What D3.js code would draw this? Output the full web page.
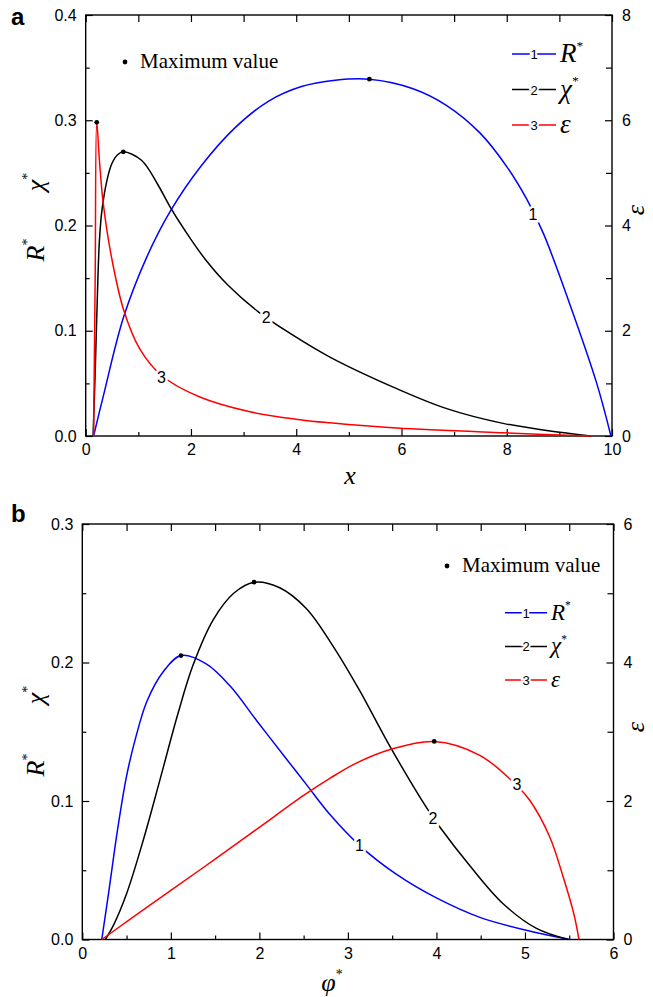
<!DOCTYPE html>
<html>
<head>
<meta charset="utf-8">
<script src="https://cdn.jsdelivr.net/npm/d3@7"></script>
<style>
  body { margin: 0; background: #fff; }
  svg text { font-family: "Liberation Sans", Arial, sans-serif; fill: #000; }
  svg .serif { font-family: "Liberation Serif", "Times New Roman", serif; }
</style>
</head>
<body>
<div id="app"></div>
<script>
// ---- panel a: x vs R*, chi* (left axis) and epsilon (right axis) ----
const aR = [[0.15,0],[0.33,0.037],[0.72,0.113],[1.16,0.170],[1.6,0.213],[2.2,0.257],[2.84,0.293],
  [3.47,0.318],[4.1,0.332],[4.74,0.338],[5.39,0.339],[6.22,0.330],[6.86,0.314],[7.49,0.288],
  [8.0,0.256],[8.38,0.225],[8.7,0.192],[9.2,0.125],[9.71,0.05],[9.98,0]];
const aChi = [[0.14,0],[0.18,0.06],[0.22,0.13],[0.26,0.185],[0.31,0.215],[0.4,0.242],[0.49,0.258],
  [0.6,0.267],[0.715,0.270],[1.06,0.262],[1.38,0.238],[1.6,0.218],[1.89,0.195],[2.27,0.168],
  [2.71,0.143],[3.28,0.118],[3.9,0.097],[4.64,0.075],[5.91,0.045],[6.86,0.026],[7.93,0.012],
  [9.01,0.0035],[9.6,0]];
const aEps = [[0.15,0],[0.18,3.0],[0.21,5.96],[0.26,5.25],[0.33,4.45],[0.49,3.4],[0.72,2.4],
  [1.03,1.65],[1.44,1.15],[2.17,0.74],[3.12,0.46],[4.07,0.31],[4.64,0.25],[5.91,0.15],
  [7.93,0.06],[9.6,0]];
const aMaxLeft = [[5.39,0.339],[0.715,0.270]];
const aMaxRight = [[0.21,5.96]];
const aCurveLabels = [["1",8.5,0.211,"left"],["2",3.43,0.113,"left"],["3",1.44,1.13,"right"]];

// ---- panel b: phi* vs R*, chi* (left axis) and epsilon (right axis) ----
const bR = [[0.22,0],[0.3,0.035],[0.4,0.08],[0.5,0.118],[0.6,0.145],[0.73,0.172],[0.91,0.193],
  [1.115,0.205],[1.4,0.199],[1.67,0.183],[1.97,0.158],[2.31,0.130],[2.53,0.112],[2.8,0.090],
  [3.13,0.068],[3.55,0.047],[4.0,0.030],[4.49,0.016],[5.06,0.006],[5.51,0]];
const bChi = [[0.26,0],[0.35,0.01],[0.5,0.033],[0.69,0.072],[0.88,0.116],[1.08,0.163],[1.25,0.198],
  [1.48,0.231],[1.71,0.250],[1.94,0.258],[2.23,0.254],[2.53,0.239],[2.83,0.212],[3.13,0.180],
  [3.47,0.140],[3.89,0.095],[4.04,0.081],[4.38,0.053],[4.75,0.026],[5.13,0.008],[5.49,0]];
const bEps = [[0.22,0],[1.0,0.71],[1.5,1.16],[2.0,1.62],[2.5,2.08],[2.8,2.33],[3.1,2.55],[3.47,2.74],
  [3.975,2.86],[4.49,2.66],[4.91,2.22],[5.06,2.0],[5.28,1.48],[5.43,0.91],[5.55,0.38],[5.61,0]];
const bMaxLeft = [[1.115,0.205],[1.94,0.258]];
const bMaxRight = [[3.975,2.86]];
const bCurveLabels = [["1",3.13,0.068,"left"],["2",3.96,0.088,"left"],["3",4.91,2.25,"right"]];

// ticks
const aXMajor = [0,2,4,6,8,10], aXMinor = [1,3,5,7,9];
const aYMajor = [0,0.1,0.2,0.3,0.4], aYMinor = [0.05,0.15,0.25,0.35];
const aY2Major = [0,2,4,6,8], aY2Minor = [1,3,5,7];
const bXMajor = [0,1,2,3,4,5,6], bXMinor = [0.5,1.5,2.5,3.5,4.5,5.5];
const bYMajor = [0,0.1,0.2,0.3], bYMinor = [0.05,0.15,0.25];
const bY2Major = [0,2,4,6], bY2Minor = [1,3,5];

const colors = ["#0000ff", "#000000", "#ff0000"];

const svg = d3.select("#app").append("svg")
  .attr("width", 653).attr("height", 997);
svg.append("rect").attr("width", 653).attr("height", 997).attr("fill", "#fff");

function drawPanel(p) {
  const x = d3.scaleLinear().domain(p.xDomain).range([p.left, p.right]);
  const y = d3.scaleLinear().domain(p.yDomain).range([p.bottom, p.top]);
  const y2 = d3.scaleLinear().domain(p.y2Domain).range([p.bottom, p.top]);
  const g = svg.append("g");

  // axes: ticks point inward
  const addAxis = (axis, tr) => {
    const a = g.append("g").attr("transform", tr).call(axis);
    a.select(".domain").remove();
    a.selectAll("line").attr("stroke", "#000").attr("stroke-width", 1.2);
    a.selectAll("text").attr("font-size", 16).attr("fill", "#000");
    return a;
  };
  addAxis(d3.axisBottom(x).tickValues(p.xMajor).tickSize(-7).tickPadding(8).tickFormat(d3.format("d")),
    `translate(0,${p.bottom})`);
  addAxis(d3.axisBottom(x).tickValues(p.xMinor).tickSize(-4).tickFormat(""), `translate(0,${p.bottom})`);
  addAxis(d3.axisTop(x).tickValues(p.xMajor.concat(p.xMinor)).tickSize(-7).tickFormat(""),
    `translate(0,${p.top})`);
  addAxis(d3.axisLeft(y).tickValues(p.yMajor).tickSize(-7).tickPadding(9).tickFormat(d3.format(".1f")),
    `translate(${p.left},0)`);
  addAxis(d3.axisLeft(y).tickValues(p.yMinor).tickSize(-4).tickFormat(""), `translate(${p.left},0)`);
  addAxis(d3.axisRight(y2).tickValues(p.y2Major).tickSize(-7).tickPadding(10).tickFormat(d3.format("d")),
    `translate(${p.right},0)`);
  addAxis(d3.axisRight(y2).tickValues(p.y2Minor).tickSize(-6).tickFormat(""), `translate(${p.right},0)`);

  g.append("rect")
    .attr("x", p.left).attr("y", p.top)
    .attr("width", p.right - p.left).attr("height", p.bottom - p.top)
    .attr("fill", "none").attr("stroke", "#000").attr("stroke-width", 1.4);

  // curves
  const curve = d3.curveCatmullRom.alpha(0.5);
  const lineL = d3.line().x(d => x(d[0])).y(d => y(d[1])).curve(curve);
  const lineR = d3.line().x(d => x(d[0])).y(d => y2(d[1])).curve(curve);
  [p.R, p.Chi].forEach((s, i) => {
    g.append("path").datum(s).attr("d", lineL)
      .attr("fill", "none").attr("stroke", colors[i]).attr("stroke-width", 1.5);
  });
  g.append("path").datum(p.Eps).attr("d", lineR)
    .attr("fill", "none").attr("stroke", colors[2]).attr("stroke-width", 1.5);

  // curve number labels, white halo cuts the line
  g.selectAll(".clab").data(p.curveLabels).enter().append("text")
    .attr("x", d => x(d[1]))
    .attr("y", d => (d[3] === "left" ? y(d[2]) : y2(d[2])) + 6)
    .attr("text-anchor", "middle").attr("font-size", 16)
    .attr("stroke", "#fff").attr("stroke-width", 5).attr("paint-order", "stroke")
    .text(d => d[0]);

  // maximum points
  g.selectAll(".mxl").data(p.maxLeft).enter().append("circle")
    .attr("cx", d => x(d[0])).attr("cy", d => y(d[1])).attr("r", 2.4).attr("fill", "#000");
  g.selectAll(".mxr").data(p.maxRight).enter().append("circle")
    .attr("cx", d => x(d[0])).attr("cy", d => y2(d[1])).attr("r", 2.4).attr("fill", "#000");

  // "Maximum value" note
  g.append("circle").attr("cx", p.noteX).attr("cy", p.noteY).attr("r", 2.4).attr("fill", "#000");
  g.append("text").attr("class", "serif").attr("x", p.noteX + 15).attr("y", p.noteY + 6)
    .attr("font-size", 21).text("Maximum value");

  // legend
  const names = [["R", "*"], ["\u03C7", "*"], ["\u03B5", ""]];
  names.forEach((n, i) => {
    const ly = p.legY + i * p.legStep;
    g.append("line").attr("x1", p.legX).attr("x2", p.legX + p.legW).attr("y1", ly).attr("y2", ly)
      .attr("stroke", colors[i]).attr("stroke-width", 1.5);
    g.append("text").attr("x", p.legX + p.legW / 2).attr("y", ly + 5)
      .attr("text-anchor", "middle").attr("font-size", 13)
      .attr("stroke", "#fff").attr("stroke-width", 4).attr("paint-order", "stroke")
      .text(i + 1);
    const t = g.append("text").attr("class", "serif").attr("x", p.legX + p.legW + 4)
      .attr("y", ly + p.legFont * 0.3).attr("font-size", p.legFont).attr("font-style", "italic");
    t.append("tspan").text(n[0]);
    if (n[1]) t.append("tspan").attr("dy", -p.legFont * 0.45).attr("font-size", p.legFont * 0.5)
      .attr("font-style", "normal").text(n[1]);
  });

  // axis titles
  const rotLabel = (cx, cy, main, sup) => {
    const t = g.append("text").attr("class", "serif")
      .attr("transform", `translate(${cx},${cy}) rotate(-90)`)
      .attr("text-anchor", "middle").attr("font-size", 26).attr("font-style", "italic");
    t.append("tspan").text(main);
    if (sup) t.append("tspan").attr("dy", -12).attr("font-size", 14).attr("font-style", "normal").text(sup);
  };
  rotLabel(p.rLabel[0], p.rLabel[1], "R", "*");
  rotLabel(p.chiLabel[0], p.chiLabel[1], "\u03C7", "*");
  rotLabel(p.epsLabel[0], p.epsLabel[1], "\u03B5", "");

  const xt = g.append("text").attr("class", "serif").attr("x", p.xLabel[0]).attr("y", p.xLabel[1])
    .attr("text-anchor", "middle").attr("font-size", 26).attr("font-style", "italic");
  xt.append("tspan").text(p.xName);
  if (p.xSup) xt.append("tspan").attr("dy", -12).attr("font-size", 14).attr("font-style", "normal").text(p.xSup);

  g.append("text").attr("x", p.tag[0]).attr("y", p.tag[1])
    .attr("font-size", 24).attr("font-weight", "bold").text(p.tagText);
}

drawPanel({
  left: 85.7, right: 612, top: 15, bottom: 436,
  xDomain: [0, 10], yDomain: [0, 0.4], y2Domain: [0, 8],
  xMajor: aXMajor, xMinor: aXMinor, yMajor: aYMajor, yMinor: aYMinor,
  y2Major: aY2Major, y2Minor: aY2Minor,
  R: aR, Chi: aChi, Eps: aEps, maxLeft: aMaxLeft, maxRight: aMaxRight, curveLabels: aCurveLabels,
  noteX: 125, noteY: 62,
  legX: 512, legW: 44, legY: 54, legStep: 35.5, legFont: 27,
  rLabel: [44, 250], chiLabel: [44, 182], epsLabel: [644, 210],
  xLabel: [350, 484], xName: "x", xSup: "",
  tag: [11, 25], tagText: "a"
});

drawPanel({
  left: 82.3, right: 613.5, top: 524, bottom: 939.5,
  xDomain: [0, 6], yDomain: [0, 0.3], y2Domain: [0, 6],
  xMajor: bXMajor, xMinor: bXMinor, yMajor: bYMajor, yMinor: bYMinor,
  y2Major: bY2Major, y2Minor: bY2Minor,
  R: bR, Chi: bChi, Eps: bEps, maxLeft: bMaxLeft, maxRight: bMaxRight, curveLabels: bCurveLabels,
  noteX: 447, noteY: 566,
  legX: 505, legW: 42, legY: 612.7, legStep: 33.7, legFont: 23,
  rLabel: [44, 765], chiLabel: [44, 695], epsLabel: [644, 727],
  xLabel: [332, 991], xName: "\u03C6", xSup: "*",
  tag: [11, 522], tagText: "b"
});
</script>
</body>
</html>
